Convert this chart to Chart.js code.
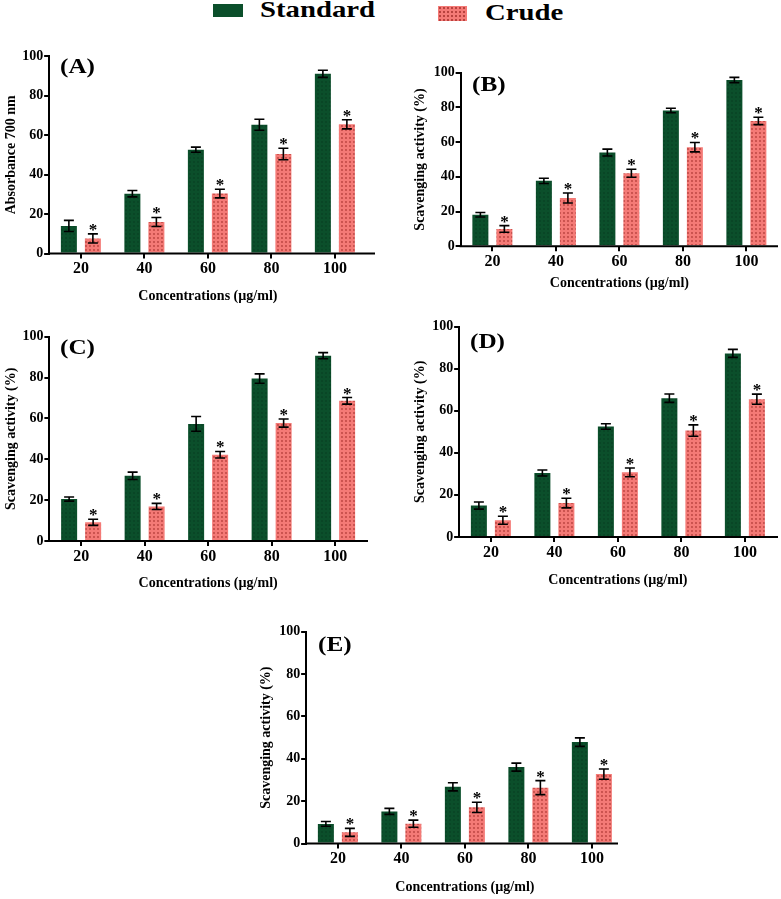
<!DOCTYPE html>
<html><head><meta charset="utf-8">
<script src="https://cdn.jsdelivr.net/npm/chart.js@4.4.0/dist/chart.umd.min.js"></script>
<style>
html,body{margin:0;padding:0;background:#fff}
body{width:781px;height:899px;position:relative;overflow:hidden;font-family:"Liberation Serif","Times New Roman",serif}
canvas{position:absolute}
.sw{position:absolute}
.lt{position:absolute;font-weight:bold;font-size:23px;line-height:22px;transform:scaleX(1.25);transform-origin:0 0;white-space:nowrap;color:#000}
</style></head><body>
<div class="sw" id="swStd" style="left:213px;top:4px;width:30px;height:13px;"></div>
<div class="lt" style="left:260px;top:-1px;">Standard</div>
<div class="sw" id="swCrude" style="left:438px;top:6px;width:29px;height:15px;"></div>
<div class="lt" style="left:485px;top:2px;">Crude</div>
<canvas id="cA"></canvas><canvas id="cB"></canvas><canvas id="cC"></canvas><canvas id="cD"></canvas><canvas id="cE"></canvas>
<script>
// ---- data ----
const categories = ['20', '40', '60', '80', '100'];
const yTickValues = [0, 20, 40, 60, 80, 100];
const seriesNames = ['Standard', 'Crude'];
const xTitle = 'Concentrations (µg/ml)';

const stdA = [14.0, 30.3, 52.6, 65.2, 91.0];
const stdErrA = [2.8, 1.6, 1.3, 2.8, 1.8];
const crudeA = [7.7, 16.0, 30.4, 50.4, 65.4];
const crudeErrA = [2.3, 2.3, 2.2, 2.9, 2.3];

const stdB = [18.2, 37.7, 54.0, 78.2, 95.8];
const stdErrB = [1.3, 1.5, 2.0, 1.3, 1.5];
const crudeB = [10.0, 27.8, 42.1, 57.1, 72.2];
const crudeErrB = [1.9, 2.9, 2.3, 2.7, 2.1];

const stdC = [20.5, 31.9, 57.3, 79.5, 90.7];
const stdErrC = [1.0, 1.8, 3.6, 2.3, 1.5];
const crudeC = [9.1, 16.9, 42.2, 57.7, 68.6];
const crudeErrC = [1.5, 1.5, 1.6, 2.0, 1.6];

const stdD = [14.9, 30.4, 52.5, 66.0, 87.3];
const stdErrD = [1.7, 1.4, 1.3, 2.0, 1.9];
const crudeD = [7.9, 16.1, 30.7, 50.6, 65.5];
const crudeErrD = [1.9, 2.3, 2.1, 2.7, 2.4];

const stdE = [9.3, 15.2, 26.8, 36.1, 47.9];
const stdErrE = [1.1, 1.4, 1.9, 1.9, 2.0];
const crudeE = [5.3, 9.4, 17.1, 26.4, 32.8];
const crudeErrE = [1.9, 1.7, 2.4, 3.3, 2.4];

const yTitleAbs = 'Absorbance 700 nm';
const yTitleScav = 'Scavenging activity (%)';

// ---- layout (page pixels) ----
const FONT = '"Liberation Serif", "Times New Roman", serif';
const BAND = 63.5;
const panels = [
  {id:'cA', label:'(A)', std:stdA, stdErr:stdErrA, crude:crudeA, crudeErr:crudeErrA, yTitle:yTitleAbs, yTitleSize:14,
   cl:0, ct:40, axisX:48, first:82, top:56, bottom:254, axisRight:375, xTitleY:297, yTitleX:10, labX:60, labY:57},
  {id:'cB', label:'(B)', std:stdB, stdErr:stdErrB, crude:crudeB, crudeErr:crudeErrB, yTitle:yTitleScav, yTitleSize:14,
   cl:390, ct:55, axisX:460, first:493, top:72.7, bottom:246.7, axisRight:778, xTitleY:284, yTitleX:420, labX:472, labY:75},
  {id:'cC', label:'(C)', std:stdC, stdErr:stdErrC, crude:crudeC, crudeErr:crudeErrC, yTitle:yTitleScav, yTitleSize:14,
   cl:0, ct:315, axisX:48, first:82.5, top:336.7, bottom:541.3, axisRight:368, xTitleY:584, yTitleX:10, labX:60, labY:338},
  {id:'cD', label:'(D)', std:stdD, stdErr:stdErrD, crude:crudeD, crudeErr:crudeErrD, yTitle:yTitleScav, yTitleSize:14,
   cl:390, ct:305, axisX:457, first:493, top:326.7, bottom:537.3, axisRight:778, xTitleY:581, yTitleX:420, labX:470, labY:332},
  {id:'cE', label:'(E)', std:stdE, stdErr:stdErrE, crude:crudeE, crudeErr:crudeErrE, yTitle:yTitleScav, yTitleSize:14,
   cl:240, ct:610, axisX:305, first:339, top:631.7, bottom:844, axisRight:618, xTitleY:888, yTitleX:266, labX:318, labY:635}
];

function dotPattern(bg, dot, step, r) {
  const c = document.createElement('canvas');
  c.width = c.height = step;
  const x = c.getContext('2d');
  x.fillStyle = bg; x.fillRect(0, 0, step, step);
  x.fillStyle = dot; x.beginPath(); x.arc(step/2, step/2, r, 0, Math.PI*2); x.fill();
  return x.createPattern(c, 'repeat');
}
const STD_BG = '#0b4f2b', STD_DOT = '#083c20';
const CR_BG = '#f47a76', CR_DOT = '#b8423e';
const stdPat = dotPattern(STD_BG, STD_DOT, 4, 0.8);
const crPat = dotPattern(CR_BG, CR_DOT, 4, 0.9);

document.getElementById('swStd').style.background = STD_BG;
(function(){
  const el = document.getElementById('swCrude');
  el.style.background = CR_BG;
  el.style.backgroundImage = 'radial-gradient(circle, ' + CR_DOT + ' 0.9px, transparent 1.2px)';
  el.style.backgroundSize = '4px 4px';
})();

const errPlugin = {
  id: 'errPlugin',
  afterDatasetsDraw(chart) {
    const ctx = chart.ctx, ys = chart.scales.y;
    chart.data.datasets.forEach((ds, i) => {
      const meta = chart.getDatasetMeta(i);
      meta.data.forEach((bar, j) => {
        const v = ds.data[j], e = ds.errors[j];
        const t = ys.getPixelForValue(v + e), b = ys.getPixelForValue(v - e);
        ctx.save();
        ctx.strokeStyle = '#000'; ctx.lineWidth = 1.6;
        ctx.beginPath();
        ctx.moveTo(bar.x, t); ctx.lineTo(bar.x, b);
        ctx.moveTo(bar.x - 5, t); ctx.lineTo(bar.x + 5, t);
        ctx.moveTo(bar.x - 5, b); ctx.lineTo(bar.x + 5, b);
        ctx.stroke();
        if (ds.star) {
          ctx.fillStyle = '#000';
          ctx.font = 'bold 17px ' + FONT;
          ctx.textAlign = 'center'; ctx.textBaseline = 'alphabetic';
          ctx.fillText('*', bar.x, t + 1);
        }
        ctx.restore();
      });
    });
  },
  afterDraw(chart) {
    const p = chart.options.plugins.errPlugin;
    const ctx = chart.ctx, ca = chart.chartArea;
    ctx.save();
    ctx.strokeStyle = '#000'; ctx.lineWidth = 2;
    ctx.beginPath();
    ctx.moveTo(ca.left - 1, ca.bottom); ctx.lineTo(p.axisRight, ca.bottom);
    ctx.stroke();
    ctx.fillStyle = '#000';
    ctx.font = 'bold 21px ' + FONT;
    ctx.textBaseline = 'alphabetic'; ctx.textAlign = 'left';
    ctx.translate(p.labX, p.labY + 16);
    ctx.scale(1.2, 1);
    ctx.fillText(p.label, 0, 0);
    ctx.restore();
  }
};

panels.forEach(p => {
  const tLH = p.yTitleSize * 1.2;
  const xLH = 14 * 1.2;
  const chartLeft = (p.axisX + (p.first - BAND/2)) / 2;
  const padLeft = Math.max(0, p.yTitleX - p.cl - 3 - tLH/2);
  const yAxisW = chartLeft - p.cl - padLeft;
  const xAxisH = p.xTitleY + 3 + xLH/2 - p.bottom;
  const chartRight = chartLeft + BAND * categories.length;
  const W = Math.round(Math.max(chartRight, p.axisRight) + 6 - p.cl);
  const padTop = p.top - p.ct;
  const H = Math.round(p.bottom + xAxisH - p.ct);
  const padRight = W - (chartRight - p.cl);
  const cv = document.getElementById(p.id);
  cv.width = W; cv.height = H;
  cv.style.left = p.cl + 'px'; cv.style.top = p.ct + 'px';
  cv.style.width = W + 'px'; cv.style.height = H + 'px';

  new Chart(cv, {
    type: 'bar',
    data: {
      labels: categories,
      datasets: [
        {label: seriesNames[0], data: p.std, errors: p.stdErr, backgroundColor: stdPat, borderWidth: 0,
         categoryPercentage: 48/BAND, barPercentage: 16/24, star: false},
        {label: seriesNames[1], data: p.crude, errors: p.crudeErr, backgroundColor: crPat, borderWidth: 0,
         categoryPercentage: 48/BAND, barPercentage: 16/24, star: true}
      ]
    },
    options: {
      responsive: false, animation: false, devicePixelRatio: 1,
      layout: {padding: {left: padLeft, top: padTop, right: padRight, bottom: 0}},
      plugins: {
        legend: {display: false}, tooltip: {enabled: false},
        errPlugin: {label: p.label, labX: p.labX - p.cl, labY: p.labY - p.ct, axisRight: p.axisRight - p.cl}
      },
      scales: {
        x: {
          type: 'category', offset: true,
          afterFit: s => { s.height = xAxisH; },
          border: {display: false},
          grid: {display: true, offset: false, drawOnChartArea: false, drawTicks: true, tickLength: 5, color: '#000', lineWidth: 2},
          ticks: {color: '#000', font: {family: FONT, weight: 'bold', size: 16}, padding: 1, maxRotation: 0},
          title: {display: true, text: xTitle, color: '#000', font: {family: FONT, weight: 'bold', size: 14}, padding: {top: 3, bottom: 3}}
        },
        y: {
          min: 0, max: 100,
          afterFit: s => { s.width = yAxisW; },
          afterBuildTicks: s => { s.ticks = yTickValues.map(v => ({value: v})); },
          border: {display: true, color: '#000', width: 2},
          grid: {display: true, drawOnChartArea: false, drawTicks: true, tickLength: 5, color: '#000', lineWidth: 2},
          ticks: {color: '#000', font: {family: FONT, weight: 'bold', size: 14}, padding: 1},
          title: {display: true, text: p.yTitle, color: '#000', font: {family: FONT, weight: 'bold', size: p.yTitleSize}, padding: {top: 3, bottom: 3}}
        }
      }
    },
    plugins: [errPlugin]
  });
});
</script>
</body></html>
